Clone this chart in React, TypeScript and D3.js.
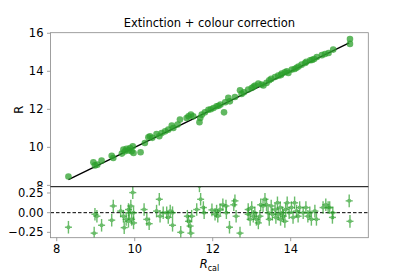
import { useEffect, useRef } from "react";
import * as d3 from "d3";

// top panel: R_cal vs R
const topRcal = [8.30, 8.94, 8.98, 9.04, 9.15, 9.41, 9.45, 9.67, 9.71, 9.75, 9.79, 9.84, 9.88, 9.92, 9.95, 9.97,
  10.15, 10.26, 10.35, 10.39, 10.45, 10.56, 10.63, 10.69, 10.78, 10.86, 10.95, 10.99, 11.10, 11.16, 11.33, 11.38,
  11.44, 11.50, 11.66, 11.68, 11.72, 11.80, 11.89, 11.95, 12.02, 12.10, 12.15, 12.20, 12.29, 12.32, 12.40, 12.44,
  12.57, 12.70, 12.74, 12.80, 12.91, 13.00, 13.05, 13.09, 13.17, 13.25, 13.30, 13.38, 13.45, 13.50, 13.60, 13.68,
  13.75, 13.77, 13.85, 13.90, 13.94, 14.03, 14.10, 14.15, 14.20, 14.28, 14.37, 14.40, 14.50, 14.55, 14.60, 14.67,
  14.80, 14.88, 14.97, 15.09, 15.52, 15.52];
const topR = [8.47, 9.21, 9.05, 9.09, 9.30, 9.56, 9.44, 9.67, 9.88, 9.79, 9.93, 9.84, 9.96, 9.79, 10.05, 9.70,
  9.74, 10.23, 10.53, 10.58, 10.50, 10.70, 10.58, 10.75, 10.84, 10.93, 11.14, 11.02, 11.20, 11.46, 11.54, 11.63,
  11.72, 11.63, 11.32, 11.54, 11.72, 11.84, 11.98, 12.00, 12.07, 12.16, 12.19, 12.25, 11.84, 12.37, 12.60, 12.42,
  12.65, 13.00, 12.81, 12.90, 13.04, 13.12, 13.20, 13.25, 13.35, 13.30, 13.25, 13.39, 13.53, 13.60, 13.70, 13.77,
  13.80, 13.88, 13.95, 14.00, 13.91, 14.09, 14.12, 14.18, 14.25, 14.35, 14.44, 14.50, 14.58, 14.60, 14.65, 14.75,
  14.85, 14.91, 14.96, 15.14, 15.70, 15.44];

// bottom panel: residuals
const resRcal = [8.30, 8.96, 8.98, 9.03, 9.15, 9.41, 9.45, 9.64, 9.71, 9.73, 9.78, 9.84, 9.86, 9.84, 9.90, 9.92,
  9.95, 9.97, 9.97, 10.24, 10.31, 10.37, 10.56, 10.63, 10.65, 10.73, 10.82, 10.86, 10.91, 10.97, 10.97, 11.18,
  11.35, 11.38, 11.42, 11.44, 11.46, 11.59, 11.66, 11.69, 11.76, 11.78, 11.98, 12.06, 12.10, 12.13, 12.19, 12.26,
  12.34, 12.35, 12.43, 12.54, 12.57, 12.60, 12.70, 12.91, 12.91, 12.96, 13.00, 13.04, 13.08, 13.12, 13.17, 13.21,
  13.23, 13.29, 13.34, 13.38, 13.42, 13.45, 13.50, 13.53, 13.60, 13.62, 13.66, 13.68, 13.73, 13.74, 13.79, 13.81,
  13.85, 13.87, 13.91, 13.96, 14.02, 14.06, 14.10, 14.15, 14.19, 14.23, 14.32, 14.39, 14.44, 14.49, 14.53, 14.62,
  14.66, 14.83, 14.90, 14.96, 15.00, 15.07, 15.08, 15.50, 15.52];
const resid = [-0.185, -0.26, -0.02, -0.045, -0.16, -0.095, 0.085, 0.02, -0.045, -0.19, -0.085, 0.04, 0.0, -0.11, 0.085, -0.085,
  0.255, 0.0, -0.13, 0.04, -0.085, -0.14, 0.02, 0.17, -0.045, 0.0, 0.0, -0.06, 0.02, 0.0, -0.16, -0.25,
  -0.045, -0.11, -0.17, -0.26, -0.045, 0.04, 0.34, 0.17, 0.065, 0.0, 0.035, -0.02, 0.02, -0.045, 0.04, 0.10,
  0.085, 0.0, -0.185, 0.10, 0.15, -0.045, -0.26, 0.04, -0.02, -0.085, 0.065, -0.045, 0.0, -0.085, -0.13, -0.045,
  0.10, 0.085, 0.17, 0.10, 0.0, -0.085, 0.085, -0.02, 0.04, -0.06, 0.125, -0.02, 0.065, -0.085, 0.0, -0.045,
  -0.11, 0.04, 0.125, 0.0, 0.065, -0.06, 0.125, 0.02, -0.045, 0.065, 0.0, 0.065, -0.045, 0.0, -0.085, 0.02,
  -0.085, 0.065, 0.10, 0.065, 0.065, -0.06, 0.0, 0.15, -0.11];

const xTicks = [8, 10, 12, 14];
const topTicks = [8, 10, 12, 14, 16];
const resTicks = [-0.25, 0, 0.25];
const fitLine = [8.3, 15.5];

export default function App() {
  const svgRef = useRef<SVGSVGElement>(null);

  useEffect(() => {
    if (!svgRef.current) return;
    const svg = d3.select(svgRef.current);
    svg.selectAll("*").remove();
    const font = "DejaVu Sans";
    const fs = 11.5;
    const green = "#2ca02c";
    const spine = "#888";
    const left = 50.5, right = 368.3, top = 32.7, mid = 186.7, bottom = 237.7;

    const x = d3.scaleLinear().domain([7.84, 15.99]).range([left, right]);
    const yTop = d3.scaleLinear().domain([7.93, 16.03]).range([mid, top]);
    const yRes = d3.scaleLinear().domain([-0.318, 0.33]).range([bottom, mid]);

    const defs = svg.append("defs");
    defs.append("clipPath").attr("id", "clipTop").append("rect")
      .attr("x", left).attr("y", top).attr("width", right - left).attr("height", mid - top);
    defs.append("clipPath").attr("id", "clipRes").append("rect")
      .attr("x", left).attr("y", mid).attr("width", right - left).attr("height", bottom - mid);
    defs.append("clipPath").attr("id", "clipLab").append("rect")
      .attr("x", 0).attr("y", 0).attr("width", left).attr("height", mid);

    // title
    svg.append("text").attr("x", (left + right) / 2).attr("y", 27)
      .attr("text-anchor", "middle").attr("font-family", font).attr("font-size", fs)
      .text("Extinction + colour correction");

    // top panel
    const gTop = svg.append("g").attr("clip-path", "url(#clipTop)");
    const line = d3.line<number>().x(d => x(d)).y(d => yTop(d));
    gTop.append("path").attr("d", line(fitLine)).attr("fill", "none")
      .attr("stroke", "#000").attr("stroke-width", 1.4);
    gTop.selectAll("circle").data(topRcal).enter().append("circle")
      .attr("cx", d => x(d)).attr("cy", (_, i) => yTop(topR[i]))
      .attr("r", 3.3).attr("fill", green).attr("opacity", 0.75);

    // top y axis (labels clipped at the panel break)
    const gTopLab = svg.append("g").attr("clip-path", "url(#clipLab)");
    topTicks.forEach(t => {
      gTopLab.append("line").attr("x1", left - 3.5).attr("x2", left)
        .attr("y1", yTop(t)).attr("y2", yTop(t)).attr("stroke", spine).attr("stroke-width", 0.8);
      gTopLab.append("text").attr("x", left - 7).attr("y", yTop(t)).attr("dy", "0.36em")
        .attr("text-anchor", "end").attr("font-family", font).attr("font-size", fs).text(t);
    });

    // residual panel
    const gRes = svg.append("g").attr("clip-path", "url(#clipRes)");
    gRes.append("line").attr("x1", left).attr("x2", right)
      .attr("y1", yRes(0)).attr("y2", yRes(0))
      .attr("stroke", "#000").attr("stroke-width", 1).attr("stroke-dasharray", "3.5,2");
    const pts = gRes.selectAll("g.pt").data(resRcal).enter().append("g")
      .attr("opacity", 0.7);
    pts.append("line")
      .attr("x1", d => x(d - 0.09)).attr("x2", d => x(d + 0.09))
      .attr("y1", (_, i) => yRes(resid[i])).attr("y2", (_, i) => yRes(resid[i]))
      .attr("stroke", green).attr("stroke-width", 1.4);
    pts.append("line")
      .attr("x1", d => x(d)).attr("x2", d => x(d))
      .attr("y1", (_, i) => yRes(resid[i] - 0.08)).attr("y2", (_, i) => yRes(resid[i] + 0.08))
      .attr("stroke", green).attr("stroke-width", 1.4);
    pts.append("circle")
      .attr("cx", d => x(d)).attr("cy", (_, i) => yRes(resid[i]))
      .attr("r", 2).attr("fill", green);

    resTicks.forEach(t => {
      svg.append("line").attr("x1", left - 3.5).attr("x2", left)
        .attr("y1", yRes(t)).attr("y2", yRes(t)).attr("stroke", spine).attr("stroke-width", 0.8);
      svg.append("text").attr("x", left - 7).attr("y", yRes(t)).attr("dy", "0.36em")
        .attr("text-anchor", "end").attr("font-family", font).attr("font-size", fs)
        .text(t === 0 ? "0.00" : (t < 0 ? "\u2212" : "") + Math.abs(t).toFixed(2));
    });

    xTicks.forEach(t => {
      svg.append("line").attr("x1", x(t)).attr("x2", x(t))
        .attr("y1", bottom).attr("y2", bottom + 3.5).attr("stroke", spine).attr("stroke-width", 0.8);
      svg.append("text").attr("x", x(t)).attr("y", bottom + 15.5)
        .attr("text-anchor", "middle").attr("font-family", font).attr("font-size", fs).text(t);
    });

    // frames
    svg.append("rect").attr("x", left).attr("y", top).attr("width", right - left).attr("height", bottom - top)
      .attr("fill", "none").attr("stroke", spine).attr("stroke-width", 0.8);
    svg.append("line").attr("x1", left).attr("x2", right).attr("y1", mid).attr("y2", mid)
      .attr("stroke", "#000").attr("stroke-width", 1);

    // axis labels
    svg.append("text").attr("transform", `translate(22.5,${(top + mid) / 2}) rotate(-90)`)
      .attr("text-anchor", "middle").attr("font-family", font).attr("font-size", fs).text("R");
    const xl = svg.append("text").attr("x", (left + right) / 2).attr("y", 268)
      .attr("text-anchor", "middle").attr("font-family", font).attr("font-size", fs);
    xl.append("tspan").attr("font-style", "italic").text("R");
    xl.append("tspan").attr("font-size", 8).attr("dy", 3).text("cal");
  }, []);

  return (
    <div style={{ position: "absolute", left: 0, top: 0 }}>
      <svg ref={svgRef} width={409} height={273} style={{ display: "block" }}></svg>
    </div>
  );
}
